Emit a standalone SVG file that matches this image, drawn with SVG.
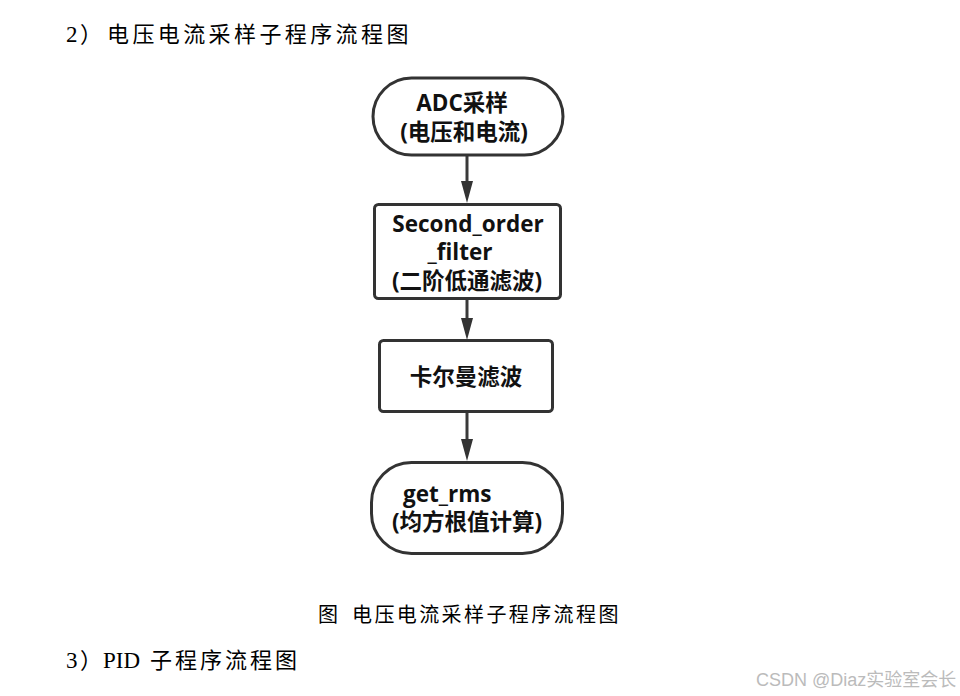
<svg xmlns="http://www.w3.org/2000/svg" width="960" height="696" viewBox="0 0 960 696">
<defs>
<style>
.doc{font-family:"Liberation Serif","Noto Sans CJK SC",serif;fill:#000;font-size:22px}
.lat{font-family:"Liberation Serif",serif;font-size:23px}
.node{fill:#fff;stroke:#333;stroke-width:3}
.lbl{font-family:"Open Sans","Noto Sans CJK SC",sans-serif;font-weight:bold;font-size:22.5px;fill:#111;text-anchor:middle}
.conn{stroke:#3a3a3a;stroke-width:3;fill:none}
.head{fill:#333}
.wm{font-family:"Liberation Sans","Noto Sans CJK SC",sans-serif;font-size:18px;fill:#bbb}
</style>
</defs>
<rect width="960" height="696" fill="#fff"/>
<text class="doc" y="42"><tspan class="lat" x="66">2</tspan><tspan x="80">）</tspan><tspan x="107" letter-spacing="3.4">电压电流采样子程序流程图</tspan></text>

<g id="connectors">
<line class="conn" x1="467" y1="156" x2="467" y2="184"/>
<polygon class="head" points="461,181 473,181 467,203"/>
<line class="conn" x1="467" y1="299" x2="467" y2="321"/>
<polygon class="head" points="461,318 473,318 467,340"/>
<line class="conn" x1="467" y1="413" x2="467" y2="442"/>
<polygon class="head" points="461,439 473,439 467,461"/>
</g>

<g id="n1">
<rect class="node" x="373" y="78" width="190" height="77" rx="38.5"/>
<text class="lbl" x="462" y="111">ADC采样</text>
<text class="lbl" x="464" y="140">(电压和电流)</text>
</g>
<g id="n2">
<rect class="node" x="374.5" y="204.5" width="186" height="94" rx="4"/>
<text class="lbl" x="468" y="232">Second_order</text>
<text class="lbl" x="460" y="260">_filter</text>
<text class="lbl" x="467" y="289">(二阶低通滤波)</text>
</g>
<g id="n3">
<rect class="node" x="379.5" y="340.5" width="173" height="71" rx="4"/>
<text class="lbl" x="466" y="385">卡尔曼滤波</text>
</g>
<g id="n4">
<rect class="node" x="371.5" y="462.5" width="191" height="91" rx="40"/>
<text class="lbl" x="403" y="502" style="text-anchor:start">get_rms</text>
<text class="lbl" x="467" y="530">(均方根值计算)</text>
</g>

<text class="doc" y="622" style="font-size:20px"><tspan x="318">图</tspan><tspan x="352" letter-spacing="2.4">电压电流采样子程序流程图</tspan></text>
<text class="doc" y="668"><tspan class="lat" x="66">3</tspan><tspan x="80">）</tspan><tspan class="lat" x="103">PID</tspan><tspan x="150" letter-spacing="3">子程序流程图</tspan></text>
<text class="wm" x="756" y="686">CSDN @Diaz实验室会长</text>
</svg>
